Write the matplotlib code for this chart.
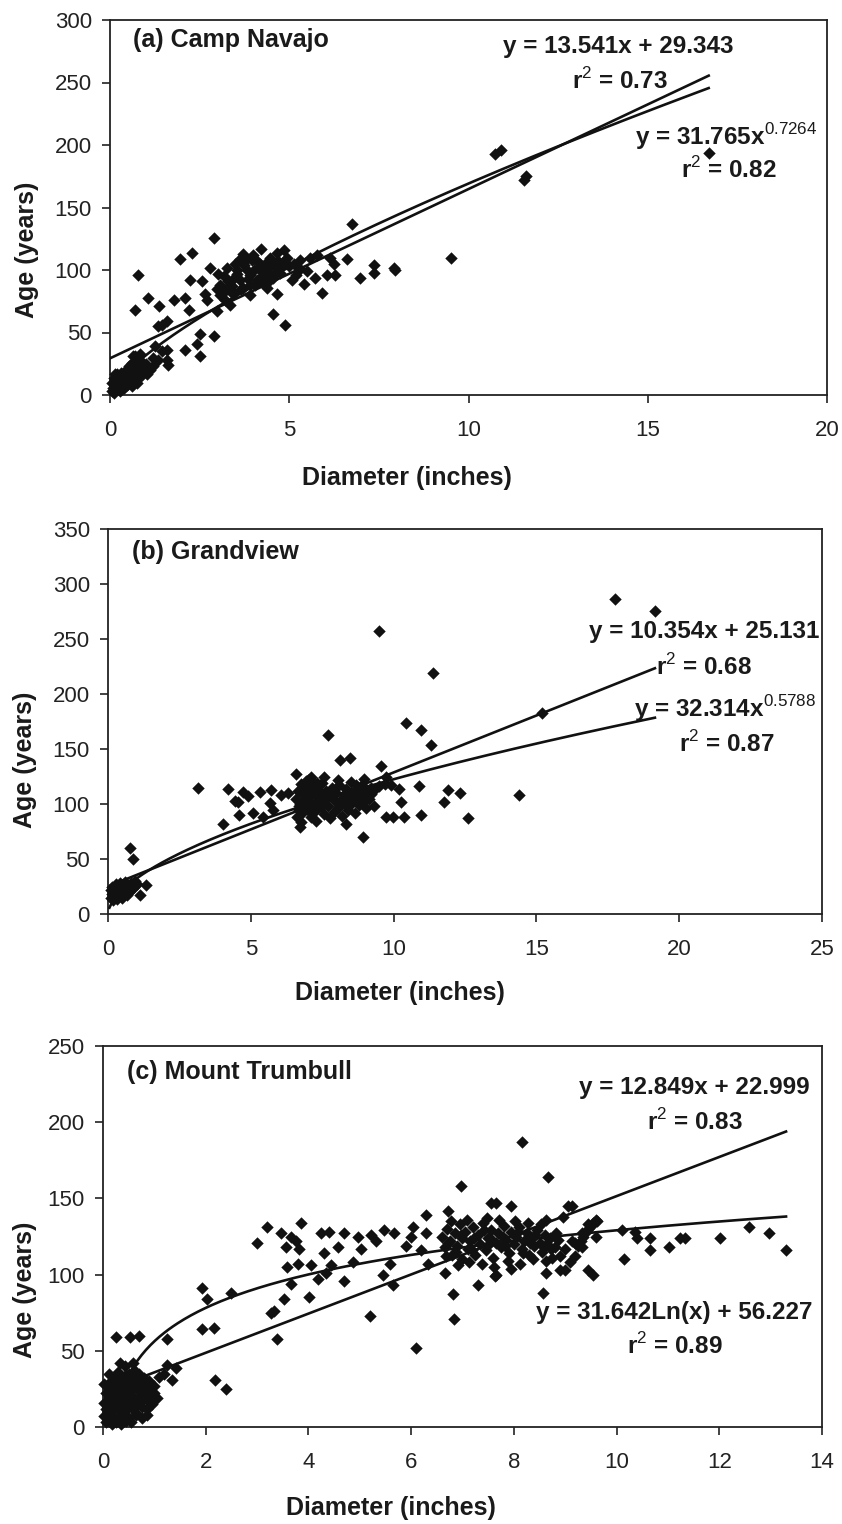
import numpy as np
import matplotlib
matplotlib.use("Agg")
import matplotlib.pyplot as plt

plt.rcParams['font.family'] = ['Liberation Sans', 'DejaVu Sans']
plt.rcParams['mathtext.fontset'] = 'custom'
plt.rcParams['mathtext.rm'] = 'Liberation Sans'
plt.rcParams['mathtext.bf'] = 'Liberation Sans:bold'

# ---------------- Panel (a) Camp Navajo ----------------
a_diam = [0.05, 0.05, 0.08, 0.10, 0.12, 0.12, 0.15, 0.18, 0.20, 0.22,
          0.25, 0.28, 0.28, 0.30, 0.32, 0.35, 0.38, 0.40, 0.42, 0.45,
          0.48, 0.50, 0.52, 0.55, 0.58, 0.60, 0.62, 0.65, 0.68, 0.70,
          0.72, 0.75, 0.78, 0.80, 0.85, 0.90, 0.95, 1.00, 1.02, 1.10,
          1.12, 1.20, 1.21, 1.26, 1.35, 1.45, 1.58, 1.58, 1.63, 0.65,
          0.84, 0.56, 0.74, 0.37, 0.19, 0.42, 0.93,
          0.79, 0.70, 1.07, 1.38, 1.96, 2.28, 2.89, 1.79, 2.10, 2.23,
          2.56, 2.79, 2.65, 2.70, 2.19, 1.44, 1.35, 1.58, 2.98, 2.51,
          2.89, 2.42, 2.10, 2.51,
          3.26, 3.44, 3.63, 3.26, 3.21, 3.35, 3.07, 3.44, 3.72, 3.91,
          4.00, 4.19, 3.82, 4.10, 4.38, 4.47, 4.66, 4.84, 4.93, 4.56,
          4.38, 4.66, 4.56, 4.89, 4.75, 5.07, 5.12, 5.31, 5.40, 5.59,
          5.77, 5.73, 5.91, 6.05, 6.15, 6.24, 6.28, 6.61, 6.75, 6.98,
          7.36, 7.36, 7.91, 7.96, 9.50, 10.75, 10.90, 11.59, 11.55, 16.70,
          3.82, 4.10, 3.54, 3.91, 4.29, 3.63, 3.07, 4.03, 4.47, 3.17,
          5.30, 3.50, 3.70, 4.20, 4.70, 5.00, 5.50, 3.90, 3.40, 4.30,
          3.00, 2.98, 3.30, 3.55, 3.75, 3.95, 4.15, 4.35, 4.55, 4.75,
          3.45, 3.65, 3.85, 4.05, 4.25, 4.45, 4.65, 4.85, 3.20, 5.20]
a_age = [3, 10, 6, 14, 2, 9, 17, 5, 11, 14,
         7, 3, 12, 18, 9, 13, 6, 16, 10, 20,
         8, 14, 23, 12, 17, 7, 26, 21, 13, 31,
         18, 10, 24, 15, 28, 19, 23, 25, 17, 21,
         20, 30, 23, 39, 28, 35, 28, 36, 24, 31,
         33, 23, 12, 15, 17, 7, 17,
         96, 68, 78, 71, 109, 114, 126, 76, 78, 92,
         91, 102, 81, 76, 68, 56, 55, 59, 67, 49,
         47, 41, 36, 31,
         102, 93, 109, 86, 76, 72, 80, 81, 86, 80,
         112, 105, 100, 92, 102, 110, 114, 116, 110, 94,
         86, 81, 65, 56, 102, 92, 105, 108, 89, 110,
         112, 94, 82, 96, 110, 105, 96, 109, 137, 94,
         104, 98, 102, 100, 110, 193, 196, 175, 172, 194,
         109, 107, 97, 96, 98, 92, 88, 100, 97, 95,
         101, 105, 113, 117, 107, 103, 99, 88, 87, 90,
         97, 85, 91, 100, 104, 108, 101, 106, 104, 98,
         82, 85, 93, 88, 95, 92, 99, 107, 83, 96]
a_lin = (13.541, 29.343)
a_pow = (31.765, 0.7264)
a_xrange = (0.0, 16.7)

# ---------------- Panel (b) Grandview ----------------
b_diam = [0.10, 0.12, 0.15, 0.18, 0.20, 0.22, 0.25, 0.28, 0.30, 0.32,
          0.35, 0.38, 0.40, 0.42, 0.45, 0.50, 0.52, 0.55, 0.60, 0.62,
          0.65, 0.70, 0.75, 0.80, 0.85, 0.90, 0.95, 1.00, 0.76, 0.88,
          1.34, 1.11, 0.15, 0.30,
          3.15, 4.03, 4.20, 4.55, 4.60, 4.72, 4.90, 5.08, 5.31, 5.43,
          5.66, 5.72, 5.78, 6.07, 6.30, 6.59, 6.71, 6.77, 7.58, 7.70,
          7.76, 8.05, 8.11, 8.46, 8.34, 8.93, 8.98, 8.69, 9.33, 9.49,
          9.57, 9.74, 9.98, 10.20, 10.27, 10.38, 10.44, 10.90, 10.97, 10.97,
          11.30, 11.38, 11.78, 11.90, 12.31, 12.60, 9.74, 17.75, 19.15, 15.18,
          14.40, 4.45,
          6.60, 6.65, 6.70, 6.75, 6.80, 6.85, 6.90, 6.95, 7.00, 7.00,
          7.05, 7.10, 7.10, 7.15, 7.20, 7.25, 7.30, 7.30, 7.35, 7.40,
          7.45, 7.50, 7.50, 7.55, 7.60, 7.65, 7.70, 7.80, 7.85, 7.90,
          7.95, 8.00, 8.05, 8.10, 8.15, 8.20, 8.25, 8.30, 8.35, 8.40,
          8.45, 8.50, 8.55, 8.60, 8.65, 8.70, 8.75, 8.80, 8.85, 8.90,
          8.95, 9.00, 9.05, 9.10, 9.15, 9.20, 6.62, 6.68, 6.72, 6.78,
          6.82, 7.02, 7.22, 7.42, 6.88, 6.92, 7.12, 7.32, 9.30, 9.50,
          9.70, 9.90, 9.20]
b_age = [15, 22, 18, 13, 25, 20, 16, 27, 22, 14,
         19, 24, 17, 28, 21, 15, 25, 19, 29, 22,
         17, 26, 20, 28, 23, 25, 30, 27, 60, 50,
         26, 17, 25, 17,
         115, 82, 114, 102, 90, 111, 107, 92, 111, 88,
         101, 113, 95, 108, 110, 127, 79, 84, 125, 163,
         87, 122, 140, 142, 82, 70, 123, 117, 98, 257,
         135, 88, 88, 114, 102, 88, 174, 116, 167, 90,
         154, 219, 102, 113, 110, 87, 125, 286, 275, 183,
         108, 103,
         105, 112, 98, 118, 92, 108, 101, 115, 95, 122,
         106, 88, 112, 100, 118, 94, 107, 85, 113, 102,
         97, 109, 119, 91, 104, 112, 98, 107, 115, 93,
         103, 110, 96, 117, 104, 89, 108, 100, 114, 95,
         106, 120, 101, 110, 92, 105, 113, 99, 108, 117,
         103, 110, 96, 112, 105, 115, 88, 95, 100, 110,
         103, 114, 99, 108, 96, 121, 125, 119, 113, 116,
         118, 117, 109]
b_lin = (10.354, 25.131)
b_pow = (32.314, 0.5788)
b_xrange = (0.1, 19.15)

# ---------------- Panel (c) Mount Trumbull ----------------
c_diam = [0.05, 0.05, 0.05, 0.08, 0.08, 0.10, 0.10, 0.12, 0.12, 0.15,
          0.15, 0.18, 0.18, 0.20, 0.20, 0.22, 0.22, 0.25, 0.25, 0.28,
          0.28, 0.30, 0.30, 0.32, 0.32, 0.35, 0.35, 0.38, 0.38, 0.40,
          0.40, 0.42, 0.45, 0.45, 0.48, 0.48, 0.50, 0.50, 0.52, 0.55,
          0.55, 0.58, 0.60, 0.60, 0.62, 0.65, 0.68, 0.70, 0.72, 0.75,
          0.78, 0.80, 0.85, 0.88, 0.90, 0.95, 1.00, 1.05, 0.42, 0.58,
          0.26, 0.53, 0.70, 0.34, 1.24, 0.86, 1.35, 1.18, 1.43, 1.25,
          1.10, 0.02, 0.02, 0.02, 0.15, 0.25, 0.35, 0.45, 0.55, 0.65,
          0.75, 0.85, 0.95, 0.20, 0.30, 0.40, 0.50, 0.60, 0.70, 0.80,
          0.90, 1.00, 0.65, 0.75, 0.85, 0.12,
          1.93, 2.03, 2.49, 1.92, 2.16, 2.19, 2.39, 3.00, 3.20, 3.46,
          3.56, 3.66, 3.75, 3.85, 3.82, 3.59, 3.79, 3.66, 3.53, 3.27,
          3.33, 3.38, 4.05, 4.01, 4.18, 4.24, 4.31, 4.40, 4.44, 4.34,
          4.57, 4.70, 4.70, 4.86, 4.96, 5.02, 5.19, 5.22, 5.32, 5.48,
          5.45, 5.58, 5.64, 5.67, 5.90, 6.00, 6.03, 6.10, 6.19, 6.29,
          6.29, 6.33, 6.65, 6.72, 6.81, 6.84, 6.97, 7.30, 7.66, 7.56,
          7.66, 8.15, 8.67, 7.95, 8.63, 9.06, 9.13, 8.96, 9.45, 9.62,
          9.32, 9.60, 7.63, 7.95, 8.63, 8.57, 8.90, 9.00, 9.45, 9.55,
          9.00, 9.13, 9.32, 10.10, 10.36, 10.39, 10.66, 10.66, 10.14, 11.02,
          11.24, 11.34, 12.02, 12.58, 12.97, 13.29,
          6.60, 6.65, 6.70, 6.75, 6.80, 6.85, 6.90, 6.95, 7.00, 7.00,
          7.05, 7.10, 7.15, 7.20, 7.25, 7.30, 7.35, 7.40, 7.45, 7.50,
          7.55, 7.60, 7.65, 7.70, 7.75, 7.80, 7.85, 7.90, 7.95, 8.00,
          8.05, 8.10, 8.15, 8.20, 8.25, 8.30, 8.35, 8.40, 8.45, 8.50,
          8.55, 8.60, 8.65, 8.70, 8.75, 8.80, 8.85, 6.68, 6.92, 7.12,
          7.38, 7.62, 7.88, 8.12, 8.38, 8.62, 6.78, 7.08, 7.48, 7.72,
          8.02, 8.28, 8.52, 9.30, 9.35, 9.40, 9.45, 9.50, 9.55, 9.60,
          9.25, 9.20, 8.90, 9.10, 9.20,
          6.72, 6.98, 7.18, 7.42, 7.58, 7.82, 8.08, 8.32, 8.58, 8.82,
          6.88, 7.22, 7.52, 7.78, 8.18, 8.42, 8.72]
c_age = [3, 12, 22, 8, 17, 27, 5, 14, 20, 10,
         30, 2, 18, 24, 7, 13, 33, 19, 27, 5,
         15, 22, 36, 11, 28, 17, 25, 8, 31, 20,
         14, 26, 11, 34, 18, 23, 28, 6, 15, 21,
         32, 12, 26, 19, 37, 16, 24, 30, 20, 13,
         27, 22, 18, 29, 25, 21, 27, 19, 40, 42,
         59, 59, 60, 42, 58, 8, 31, 35, 39, 41,
         33, 7, 16, 28, 4, 3, 2, 4, 3, 8,
         6, 12, 15, 30, 31, 33, 35, 33, 35, 32,
         30, 22, 9, 18, 25, 35,
         91, 84, 88, 64, 65, 31, 25, 121, 131, 127,
         118, 125, 122, 134, 117, 105, 107, 94, 84, 75,
         76, 58, 106, 85, 97, 127, 114, 128, 106, 101,
         118, 127, 96, 108, 125, 117, 73, 126, 122, 129,
         100, 107, 93, 127, 119, 125, 131, 52, 116, 139,
         127, 107, 101, 142, 87, 71, 158, 93, 100, 147,
         147, 187, 164, 145, 136, 145, 145, 138, 133, 135,
         127, 125, 99, 104, 101, 88, 103, 103, 103, 100,
         117, 122, 118, 129, 128, 124, 124, 116, 110, 118,
         124, 124, 124, 131, 127, 116,
         125, 118, 130, 122, 113, 127, 119, 133, 124, 110,
         128, 117, 122, 131, 113, 126, 120, 134, 116, 124,
         129, 111, 121, 127, 118, 132, 123, 114, 128, 120,
         125, 131, 117, 122, 127, 113, 124, 119, 129, 121,
         115, 126, 120, 124, 111, 118, 123, 112, 106, 108,
         107, 105, 109, 107, 110, 109, 135, 136, 137, 136,
         135, 134, 133, 122, 125, 128, 130, 132, 134, 136,
         119, 121, 112, 108, 112,
         121, 126, 116, 129, 123, 119, 128, 121, 118, 127,
         115, 124, 120, 125, 114, 126, 117]
c_lin = (12.849, 22.999)
c_log = (31.642, 56.227)
c_xrange_lin = (0.05, 13.3)
c_xrange_log = (0.18, 13.3)

W, H = 842, 1524
fig = plt.figure(figsize=(W / 100, H / 100), dpi=100)


def px_axes(left, right, top, bottom):
    return fig.add_axes([left / W, 1 - bottom / H, (right - left) / W, (bottom - top) / H])


def style(ax, xmax, xstep, ymax, ystep):
    ax.set_xlim(0, xmax)
    ax.set_ylim(0, ymax)
    ax.set_xticks(np.arange(0, xmax + 0.001, xstep))
    ax.set_yticks(np.arange(0, ymax + 0.001, ystep))
    ax.tick_params(axis='both', direction='out', length=6, width=1.2,
                   labelsize=16, colors='#222222')
    ax.tick_params(axis='x', pad=12)
    ax.tick_params(axis='y', pad=7)
    for s in ax.spines.values():
        s.set_linewidth(1.3)
        s.set_color('#222222')


def labels(ax, title, tpos, xlpos, ylpos):
    ax.text(tpos[0], tpos[1], title, transform=ax.transAxes, fontsize=18,
            fontweight='bold', ha='left', va='center', color='#1a1a1a')
    ax.text(xlpos[0], xlpos[1], 'Diameter (inches)', transform=ax.transAxes,
            fontsize=18, fontweight='bold', ha='center', va='center', color='#1a1a1a')
    ax.text(ylpos[0], ylpos[1], 'Age (years)', transform=ax.transAxes,
            fontsize=18, fontweight='bold', ha='center', va='center',
            rotation=90, color='#1a1a1a')


def eq(ax, x, y, s):
    ax.text(x, y, s, fontsize=17.5, fontweight='bold', ha='center', va='center',
            color='#1a1a1a')


msize = 40
lw = 1.9

# ---- (a)
ax1 = px_axes(110, 827, 20, 395)
style(ax1, 20, 5, 300, 50)
ax1.scatter(a_diam, a_age, marker='D', s=msize, color='#111111', clip_on=False, zorder=3, linewidths=0)
xx = np.linspace(*a_xrange, 200)
ax1.plot(xx, a_lin[0] * xx + a_lin[1], color='#111111', lw=lw, zorder=4)
xx = np.linspace(0.03, a_xrange[1], 300)
ax1.plot(xx, a_pow[0] * xx ** a_pow[1], color='#111111', lw=lw, zorder=4)
labels(ax1, '(a) Camp Navajo', (0.032, 0.947), (0.414, -0.221), (-0.116, 0.387))
eq(ax1, 14.19, 279, 'y = 13.541x + 29.343')
eq(ax1, 14.22, 251, 'r$^{2}$ = 0.73')
eq(ax1, 17.2, 206.5, 'y = 31.765x$^{0.7264}$')
eq(ax1, 17.25, 180, 'r$^{2}$ = 0.82')

# ---- (b)
ax2 = px_axes(108, 822, 529, 914)
style(ax2, 25, 5, 350, 50)
ax2.scatter(b_diam, b_age, marker='D', s=msize, color='#111111', clip_on=False, zorder=3, linewidths=0)
xx = np.linspace(*b_xrange, 200)
ax2.plot(xx, b_lin[0] * xx + b_lin[1], color='#111111', lw=lw, zorder=4)
xx = np.linspace(0.05, b_xrange[1], 300)
ax2.plot(xx, b_pow[0] * xx ** b_pow[1], color='#111111', lw=lw, zorder=4)
labels(ax2, '(b) Grandview', (0.033, 0.94), (0.409, -0.205), (-0.116, 0.40))
eq(ax2, 20.87, 257, 'y = 10.354x + 25.131')
eq(ax2, 20.87, 224.5, 'r$^{2}$ = 0.68')
eq(ax2, 21.6, 187, 'y = 32.314x$^{0.5788}$')
eq(ax2, 21.67, 154.5, 'r$^{2}$ = 0.87')

# ---- (c)
ax3 = px_axes(103, 822, 1046, 1427)
style(ax3, 14, 2, 250, 50)
ax3.scatter(c_diam, c_age, marker='D', s=msize, color='#111111', clip_on=False, zorder=3, linewidths=0)
xx = np.linspace(*c_xrange_lin, 200)
ax3.plot(xx, c_lin[0] * xx + c_lin[1], color='#111111', lw=lw, zorder=4)
xx = np.linspace(*c_xrange_log, 300)
ax3.plot(xx, c_log[0] * np.log(xx) + c_log[1], color='#111111', lw=lw, zorder=4)
labels(ax3, '(c) Mount Trumbull', (0.033, 0.932), (0.40, -0.213), (-0.108, 0.36))
eq(ax3, 11.52, 222.9, 'y = 12.849x + 22.999')
eq(ax3, 11.52, 200, 'r$^{2}$ = 0.83')
eq(ax3, 11.13, 75, 'y = 31.642Ln(x) + 56.227')
eq(ax3, 11.13, 53, 'r$^{2}$ = 0.89')

fig.savefig('out.png', dpi=100, facecolor='white')
